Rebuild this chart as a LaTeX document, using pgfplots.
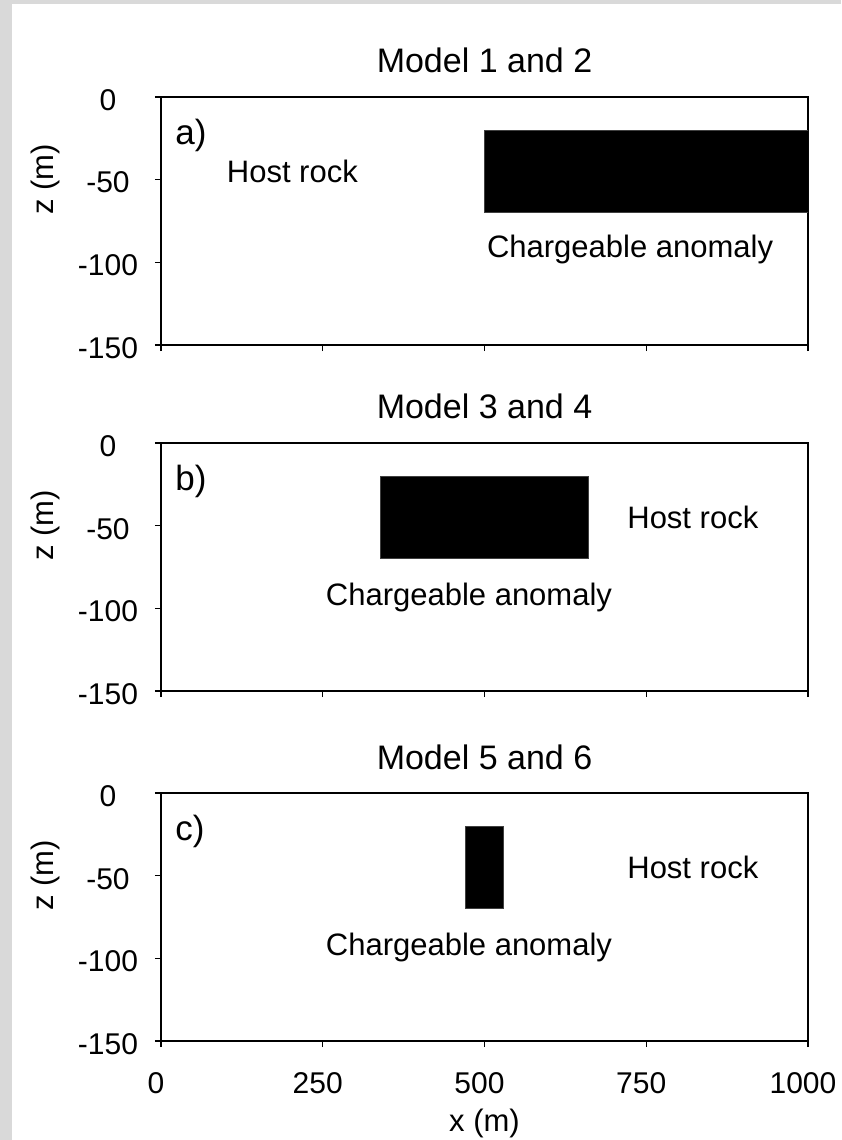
\documentclass[border=0pt]{standalone}
\usepackage{fontspec}
\setmainfont{Liberation Sans}
\usepackage{pgfplots}
\pgfplotsset{compat=1.18}
\definecolor{bg}{RGB}{217,217,217}
\begin{document}
\begin{tikzpicture}
\fill[bg] (0,0) rectangle (420.5pt,-570pt);
\fill[white] (6pt,-2pt) rectangle (420.5pt,-570pt);
\path[use as bounding box] (0,0) rectangle (420.5pt,-570pt);
\tikzset{
 lab/.style={anchor=base, font=\fontsize{15.5}{18}\selectfont},
 panlet/.style={anchor=base west, inner sep=0pt, font=\fontsize{17.5}{20}\selectfont},
 blk/.style={fill=black, draw=black!75, line width=0.5pt},
}
\pgfplotsset{
 every axis title shift=0pt,
 panel/.style={
  scale only axis, width=323.5pt, height=124pt, anchor=north west,
  xmin=0,xmax=1000,ymin=-150,ymax=0,
  xtick={0,250,500,750,1000}, ytick={0,-50,-100,-150},
  tick align=outside, xtick pos=lower, ytick pos=left,
  major tick length=3pt,
  every tick/.style={black, line width=0.65pt},
  axis line style={line width=1.4pt},
  tick label style={font=\fontsize{15}{18}\selectfont},
  /pgf/number format/assume math mode=true,
  /pgf/number format/1000 sep={},
  yticklabel style={anchor=center, xshift=-23.5pt, yshift=-1.5pt},
  xticklabel style={anchor=base, yshift=-23pt, xshift=-2.5pt},
  ylabel={z (m)},
  ylabel style={at={(axis description cs:-0.1661,0.6667)}, anchor=base, font=\fontsize{15.5}{18}\selectfont},
  title style={at={(axis description cs:0.5,1.0968)}, anchor=base, font=\fontsize{17}{20}\selectfont},
  xlabel style={at={(axis description cs:0.5,-0.3629)}, anchor=base, font=\fontsize{15.5}{18}\selectfont},
 },
}
% Panel a
\begin{axis}[panel, at={(80.5pt,-48.5pt)}, title={Model 1 and 2}, xticklabels={}]
\addplot[blk] coordinates {(500,-20) (1000,-20) (1000,-70) (500,-70)} -- cycle;
\node[panlet] at (axis cs:21.6,-29) {a)};
\node[lab] at (axis cs:203,-52) {Host rock};
\node[lab] at (axis cs:725,-97) {Chargeable anomaly};
\end{axis}
% Panel b
\begin{axis}[panel, at={(80.5pt,-221.5pt)}, title={Model 3 and 4}, xticklabels={}]
\addplot[blk] coordinates {(340,-20) (660,-20) (660,-70) (340,-70)} -- cycle;
\node[panlet] at (axis cs:21.6,-29) {b)};
\node[lab] at (axis cs:822,-52) {Host rock};
\node[lab] at (axis cs:476,-98) {Chargeable anomaly};
\end{axis}
% Panel c
\begin{axis}[panel, at={(80.5pt,-396.5pt)}, title={Model 5 and 6}, xlabel={x (m)}]
\addplot[blk] coordinates {(470,-20) (530,-20) (530,-70) (470,-70)} -- cycle;
\node[panlet] at (axis cs:21.6,-29) {c)};
\node[lab] at (axis cs:822,-52) {Host rock};
\node[lab] at (axis cs:476,-98) {Chargeable anomaly};
\end{axis}
\end{tikzpicture}
\end{document}
